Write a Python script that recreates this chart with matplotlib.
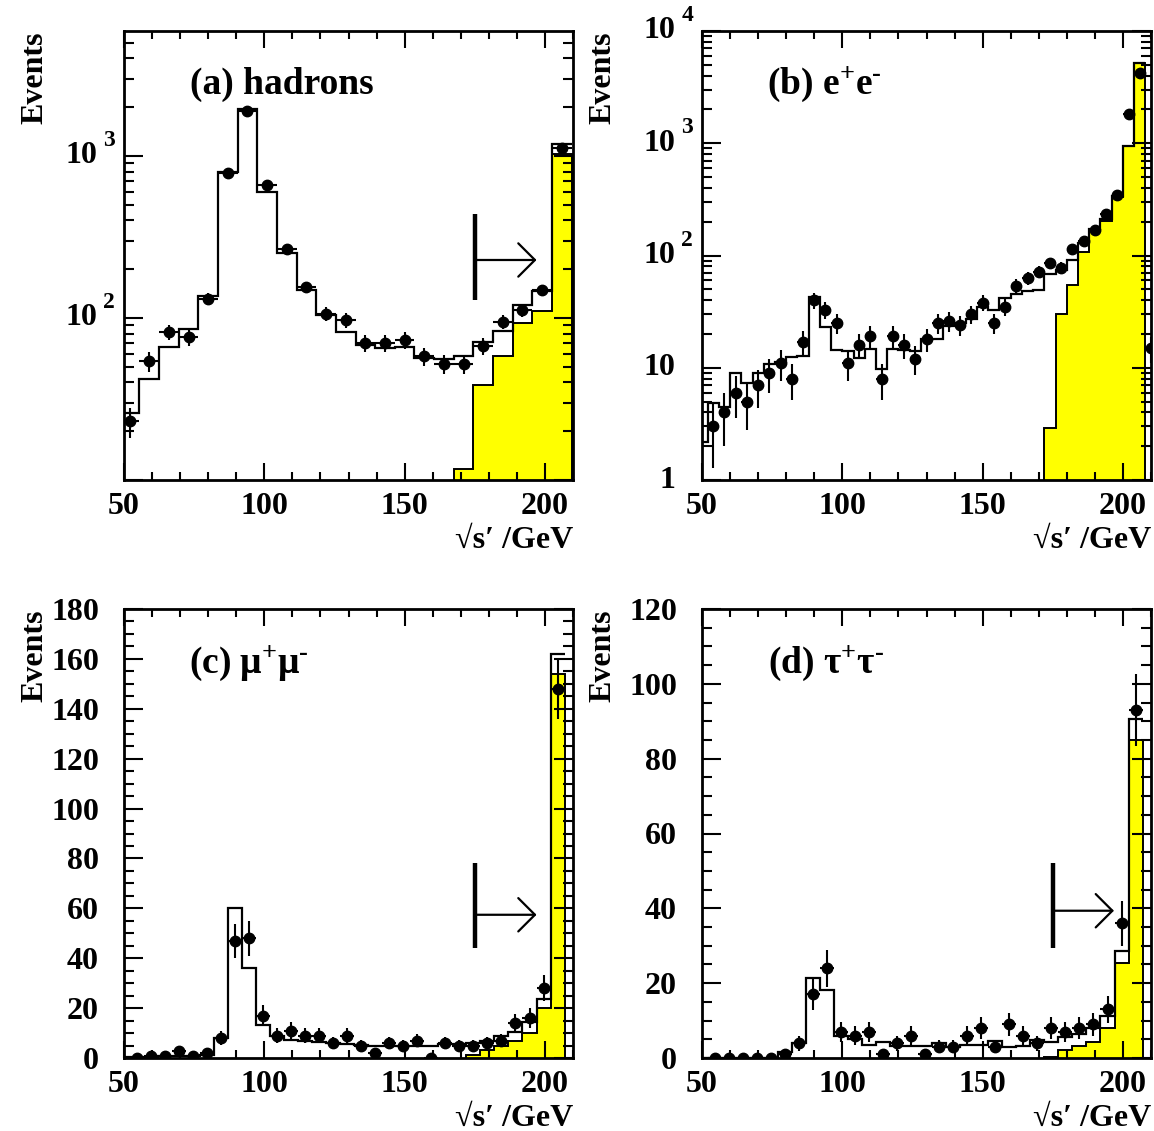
import numpy as np
import matplotlib
matplotlib.use('Agg')
import matplotlib.pyplot as plt
from matplotlib.ticker import MultipleLocator, FixedLocator, NullFormatter

plt.rcParams['font.family'] = ['Liberation Serif', 'DejaVu Serif']
plt.rcParams['font.weight'] = 'bold'
plt.rcParams['mathtext.fontset'] = 'custom'
plt.rcParams['mathtext.rm'] = 'Liberation Serif'
plt.rcParams['mathtext.bf'] = 'Liberation Serif:bold'
plt.rcParams['mathtext.it'] = 'Liberation Serif:italic'

# (a) hadrons, 7 GeV bins
had_edges = np.arange(48.5, 210, 7)
had_mc = [26, 42, 66, 85, 137, 800, 1940, 597, 251, 148, 105, 82, 68, 65, 66,
          57, 56, 58, 71, 83, 121, 146, 1186]
had_sig_edges = np.arange(167.5, 210, 7)
had_sig = [11.7, 38.8, 58.6, 93, 111, 1024]
had_x = np.arange(52, 207, 7)
had_data = [23, 54, 82, 76, 131, 789, 1893, 662, 268, 155, 106, 97, 70, 70, 73,
            58, 52, 52, 67, 95, 112, 148, 1115]

# (b) e+e-, 4 GeV bins
ee_edges = np.arange(48, 209, 4)
ee_mc = [2.2, 4.9, 4.5, 8.9, 7.3, 8.9, 10.7, 11.3, 12.5, 12.7, 43, 23, 14.3, 14.1,
         12.3, 14.8, 9.7, 14.6, 14.3, 14.0, 18.2, 18.0, 23.6, 25, 27, 34.8, 32.5,
         42, 45, 48, 49, 68, 74, 90.6, 130, 171, 210, 339, 946, 5225]
ee_sig_edges = np.arange(172, 209, 4)
ee_sig = [2.9, 30, 55, 107, 165, 203, 335, 940, 5225]
ee_x = np.arange(54, 211, 4)
ee_data = [3, 4, 6, 5, 7, 9, 11, 8, 17, 40, 33, 25, 11, 16, 19, 8, 19, 16, 12, 18,
           25, 26, 24, 30, 38, 25, 35, 54, 63, 72, 86, 78, 114, 135, 168, 236, 344,
           1835, 4210, 15]

# (c) mu+mu- and (d) tau+tau-, 5 GeV bins
ll_edges = np.arange(47, 208, 5)
ll_sig_edges = np.arange(172, 208, 5)
ll_x = np.arange(54.5, 205, 5)

mm_mc = [0.5, 0.5, 0.5, 0.7, 0.8, 0.8, 1.3, 8, 60, 36, 13.4, 8.7, 7.3, 6.7, 6.3, 6.0,
         5.5, 5.2, 5.0, 5.0, 5.0, 5.0, 5.0, 5.5, 5.7, 6.0, 6.7, 8.7, 10.3, 14.5, 23.5, 162]
mm_sig = [1.3, 3.3, 4.7, 6.7, 10, 20, 154]
mm_data = [0, 1, 1, 3, 1, 2, 8, 47, 48, 17, 9, 11, 9, 9, 6, 9, 5, 2, 6, 5, 7, 0, 6, 5,
           5, 6, 7, 14, 16, 28, 148]

tt_mc = [0, 0, 0, 0, 0, 0, 1.5, 4.0, 21.4, 18.1, 6.0, 5.1, 3.6, 4.2, 3.2, 3.3, 3.3,
         4.0, 3.0, 3.5, 3.5, 4.5, 3.0, 3.3, 4.7, 4.4, 5.6, 6.5, 8.0, 11.1, 28.7, 90.5]
tt_sig = [0.4, 2.2, 3.1, 4.4, 8, 25.5, 85]
tt_data = [0, 0, 0, 0, 0, 1, 4, 17, 24, 7, 6, 7, 1, 4, 6, 1, 3, 3, 6, 8, 3, 9, 6, 4,
           8, 7, 8, 9, 13, 36, 93]

W, H = 1154, 1131
fig = plt.figure(figsize=(W / 100, H / 100), dpi=100)
boxes = {'a': [124, 480], 'b': [702, 480], 'c': [124, 1058], 'd': [702, 1058]}
axes = {}
for k, (x0, yb) in boxes.items():
    axes[k] = fig.add_axes([x0 / W, (H - yb) / H, 449 / W, 449 / H])


def draw(ax, edges, mc, sig_edges, sig, xs, data, halfw, base):
    ax.stairs(sig, sig_edges, fill=True, baseline=base, facecolor='yellow',
              edgecolor='black', linewidth=1.4, zorder=1)
    ax.stairs(mc, edges, baseline=None, color='black', linewidth=1.6, zorder=2)
    data = np.asarray(data, dtype=float)
    ax.errorbar(xs, data, yerr=np.sqrt(data), xerr=halfw, fmt='o', color='black',
                markersize=7.5, elinewidth=1.5, capsize=0, zorder=3)


def style(ax, ylab_x):
    ax.set_xlim(50, 210)
    ax.xaxis.set_major_locator(FixedLocator([50, 100, 150, 200]))
    ax.xaxis.set_minor_locator(MultipleLocator(10))
    ax.tick_params(which='both', direction='in', top=True, right=True, width=1.5)
    ax.tick_params(axis='x', which='major', length=12, pad=9, labelsize=23)
    ax.tick_params(axis='x', which='minor', length=6)
    ax.tick_params(axis='y', which='major', length=14, pad=18, labelsize=23)
    ax.tick_params(axis='y', which='minor', length=7)
    for s in ax.spines.values():
        s.set_linewidth(2)
    ax.text(ylab_x, 1.0, 'Events', rotation=90, ha='center', va='top',
            fontsize=23, transform=ax.transAxes)
    ax.text(1.0, -0.134, '\u221as\u2032 /GeV', ha='right', va='center',
            fontsize=23, transform=ax.transAxes)


def log_labels(ax, vals, bases, exps):
    ax.yaxis.set_major_formatter(NullFormatter())
    ax.yaxis.set_minor_formatter(NullFormatter())
    for v, b, e in zip(vals, bases, exps):
        ax.annotate(b, xy=(0, v), xycoords=('axes fraction', 'data'), xytext=(-19, 0),
                    textcoords='offset points', ha='right', va='center', fontsize=23)
        if e:
            ax.annotate(e, xy=(0, v), xycoords=('axes fraction', 'data'),
                        xytext=(-15, 11), textcoords='offset points', ha='left',
                        va='center', fontsize=17)


def cut_arrow(ax, ylo, yhi, yarr, tip):
    ax.plot([175, 175], [ylo, yhi], color='black', lw=3.2,
            transform=ax.get_xaxis_transform(), solid_capstyle='butt')
    ax.annotate('', xy=(tip, yarr), xytext=(175, yarr),
                xycoords=('data', 'axes fraction'),
                arrowprops=dict(arrowstyle='->,head_length=0.6,head_width=0.6',
                                lw=1.6, color='black', mutation_scale=20,
                                shrinkA=0, shrinkB=0))


# (a)
ax = axes['a']
ax.set_yscale('log')
draw(ax, had_edges, had_mc, had_sig_edges, had_sig, had_x, had_data, 3.5, 1e-3)
ax.set_ylim(10, 5900)
style(ax, -0.198)
log_labels(ax, [100, 1000], ['10', '10'], ['2', '3'])
cut_arrow(ax, 0.402, 0.592, 0.49, 197)
ax.text(0.147, 0.86, '(a) hadrons', fontsize=27, va='baseline', transform=ax.transAxes)

# (b)
ax = axes['b']
ax.set_yscale('log')
draw(ax, ee_edges, ee_mc, ee_sig_edges, ee_sig, ee_x, ee_data, 2, 1e-3)
ax.set_ylim(1, 1e4)
style(ax, -0.22)
log_labels(ax, [1, 10, 100, 1000, 10000], ['1', '10', '10', '10', '10'],
           ['', '', '2', '3', '4'])
ax.text(0.145, 0.86, r'(b) e$^{+}$e$^{\text{-}}$', fontsize=27,
        va='baseline', transform=ax.transAxes)

# (c)
ax = axes['c']
draw(ax, ll_edges, mm_mc, ll_sig_edges, mm_sig, ll_x, mm_data, 2.5, 0)
ax.set_ylim(0, 180)
ax.yaxis.set_major_locator(MultipleLocator(20))
ax.yaxis.set_minor_locator(MultipleLocator(5))
style(ax, -0.198)
cut_arrow(ax, 0.245, 0.434, 0.319, 197)
ax.text(0.145, 0.857, r'(c) $\mathrm{\mu^{+}\mu^{\text{-}}}$', fontsize=27,
        va='baseline', transform=ax.transAxes)

# (d)
ax = axes['d']
draw(ax, ll_edges, tt_mc, ll_sig_edges, tt_sig, ll_x, tt_data, 2.5, 0)
ax.set_ylim(0, 120)
ax.yaxis.set_major_locator(MultipleLocator(20))
ax.yaxis.set_minor_locator(MultipleLocator(5))
style(ax, -0.22)
cut_arrow(ax, 0.245, 0.434, 0.328, 196.8)
ax.text(0.147, 0.857, r'(d) $\mathrm{\tau^{+}\tau^{\text{-}}}$', fontsize=27,
        va='baseline', transform=ax.transAxes)

fig.savefig('out.png', dpi=100)
